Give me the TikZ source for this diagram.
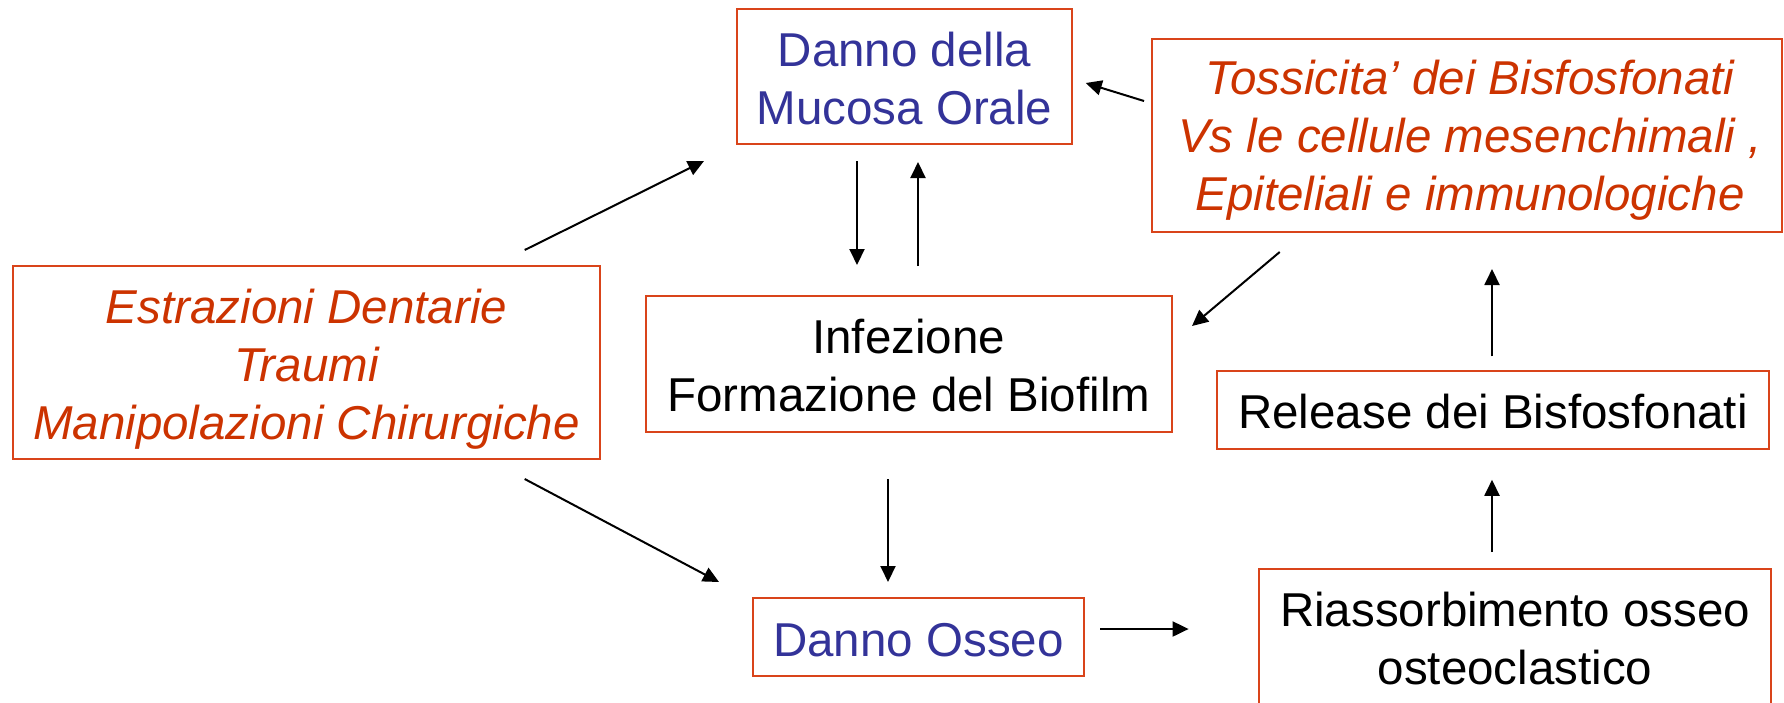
\documentclass[tikz,border=0pt]{standalone}
\usepackage{fontspec}
\setmainfont{Liberation Sans}
\usetikzlibrary{arrows.meta}
\definecolor{boxred}{HTML}{D9441A}
\definecolor{txtred}{HTML}{CC3300}
\definecolor{txtblue}{HTML}{333399}
\begin{document}
\begin{tikzpicture}[x=1pt,y=-1pt,
  box/.style={draw=boxred, line width=2pt, inner sep=0pt},
  txt/.style={inner sep=0pt, align=center, font=\fontsize{47.5}{58}\selectfont},
  redit/.style={txt, text=txtred, font=\fontsize{47.5}{58}\selectfont\itshape},
  blue/.style={txt, text=txtblue},
  arr/.style={line width=2pt, -{Triangle[length=16pt,width=15pt]}}]
\clip (0,0) rectangle (1784,702);
\fill[white] (0,0) rectangle (1784,702);
\node[box, minimum width=335pt, minimum height=135pt,
  label={[blue, yshift=-2pt]center:{Danno della\\Mucosa Orale}}] (mucosa) at (904.5,76.5) {};
\node[box, minimum width=630pt, minimum height=193pt,
  label={[redit, yshift=-5pt, xshift=3pt]center:{Tossicita’ dei Bisfosfonati\\Vs le cellule mesenchimali ,\\Epiteliali e immunologiche}}] (toss) at (1467,135.5) {};
\node[box, minimum width=587pt, minimum height=193pt,
  label={[redit, yshift=-7pt]center:{Estrazioni Dentarie\\Traumi\\Manipolazioni Chirurgiche}}] (estr) at (306.5,362.5) {};
\node[box, minimum width=525.5pt, minimum height=135.5pt,
  label={[txt, yshift=-2pt]center:{Infezione\\Formazione del Biofilm}}] (inf) at (908.75,363.75) {};
\node[box, minimum width=552pt, minimum height=77.5pt,
  label={[txt, yshift=-2pt]center:{Release dei Bisfosfonati}}] (rel) at (1493,410) {};
\node[box, minimum width=331pt, minimum height=78pt,
  label={[blue, yshift=-3pt]center:{Danno Osseo}}] (osseo) at (918.5,637) {};
\node[box, minimum width=512pt, minimum height=140pt,
  label={[txt]center:{Riassorbimento osseo\\osteoclastico}}] (riass) at (1515,639) {};

\draw[arr] ([shift={(218.2,-15)}]estr.north) -- ([shift={(-32,16)}]mucosa.south west);
\draw[arr] ([shift={(218.2,19)}]estr.south) -- ([shift={(-33,-15)}]osseo.north west);
\draw[arr] ([shift={(-47.5,16)}]mucosa.south) -- ([shift={(-51.75,-30)}]inf.north);
\draw[arr] ([shift={(9.25,-29)}]inf.north) -- ([shift={(13.5,17)}]mucosa.south);
\draw[arr] ([shift={(-20.75,46.5)}]inf.south) -- ([shift={(-30.5,-15)}]osseo.north);
\draw[arr] ([shift={(-7,-34.5)}]toss.west) -- ([shift={(12.7,6.5)}]mucosa.east);
\draw[arr] ([shift={(128.7,19)}]toss.south west) -- ([shift={(19.5,-37.75)}]inf.east);
\draw[arr] ([shift={(-1,-14)}]rel.north) -- ([shift={(25,36)}]toss.south);
\draw[arr] ([shift={(-23,-16)}]riass.north) -- ([shift={(-1,30)}]rel.south);
\draw[arr] ([shift={(15,-8)}]osseo.east) -- ([shift={(-69.4,-10)}]riass.west);
\end{tikzpicture}
\end{document}
